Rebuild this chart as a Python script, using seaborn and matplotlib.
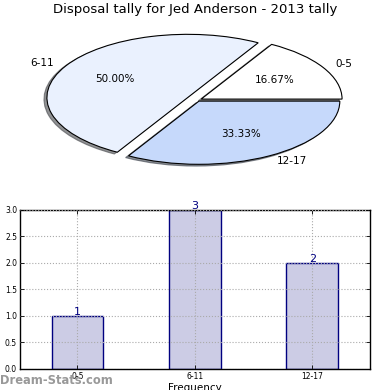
import matplotlib
matplotlib.use("Agg")
import matplotlib.pyplot as plt
import seaborn as sns
import pandas as pd

categories = ["0-5", "6-11", "12-17"]
counts = [1, 3, 2]
pie_colors = ["#ffffff", "#eaf1fe", "#c6d9fb"]
explode = [0.03, 0.08, 0.02]
title = "Disposal tally for Jed Anderson - 2013 tally"

sns.set_style("white")
plt.rcParams['font.family'] = ['DejaVu Sans']
plt.rcParams['text.color'] = 'black'
plt.rcParams['xtick.color'] = 'black'
plt.rcParams['ytick.color'] = 'black'
plt.rcParams['axes.labelcolor'] = 'black'

fig = plt.figure(figsize=(3.9, 3.9), dpi=100)

# Pie chart
ax1 = fig.add_axes([0.055, 0.541, 0.903, 0.405])
wedges, texts, autotexts = ax1.pie(counts, labels=categories, colors=pie_colors,
                                   explode=explode, autopct='%.2f%%',
                                   shadow=dict(ox=-0.015, oy=-0.02, alpha=0.6),
                                   startangle=0, counterclock=True,
                                   wedgeprops=dict(edgecolor='black', linewidth=0.8),
                                   textprops=dict(fontsize=7.5, color='black'))
ax1.set_aspect('auto')
ax1.set_xlim(-1.25, 1.25)
ax1.set_ylim(-1.25, 1.25)
fig.text(0.5, 0.975, title, ha='center', va='center', fontsize=9.5, color='black')

# Bar chart
ax2 = fig.add_axes([0.051, 0.054, 0.897, 0.408])
df = pd.DataFrame({"cat": categories, "count": counts})
sns.barplot(data=df, x="cat", y="count", ax=ax2, color="#ccccE5", width=0.44,
            edgecolor="navy", linewidth=1.0, saturation=1)
for p, v in zip(ax2.patches, counts):
    ax2.text(p.get_x() + p.get_width() / 2, p.get_height() + 0.08, str(v),
             ha='center', va='center', color='navy', fontsize=8)
ax2.set_xlim(-0.49, 2.49)
ax2.set_ylim(0, 3.0)
ax2.set_yticks([0.0, 0.5, 1.0, 1.5, 2.0, 2.5, 3.0])
ax2.set_yticklabels(["0.0", "0.5", "1.0", "1.5", "2.0", "2.5", "3.0"])
ax2.tick_params(axis='both', labelsize=5.5, direction='in', length=3, width=0.6,
                top=True, right=True, left=True, bottom=True, pad=2)
ax2.grid(True, linestyle=':', color='#aaaaaa', linewidth=0.8)
ax2.set_axisbelow(False)
for s in ax2.spines.values():
    s.set_color('black')
    s.set_linewidth(1.0)
ax2.set_ylabel("")
ax2.set_xlabel("Frequency", fontsize=7.5, labelpad=2)

fig.text(0.0, 0.025, "Dream-Stats.com", ha='left', va='center', fontsize=8.3,
         color='#999999', fontweight='semibold')

fig.savefig("out.png", dpi=100)
